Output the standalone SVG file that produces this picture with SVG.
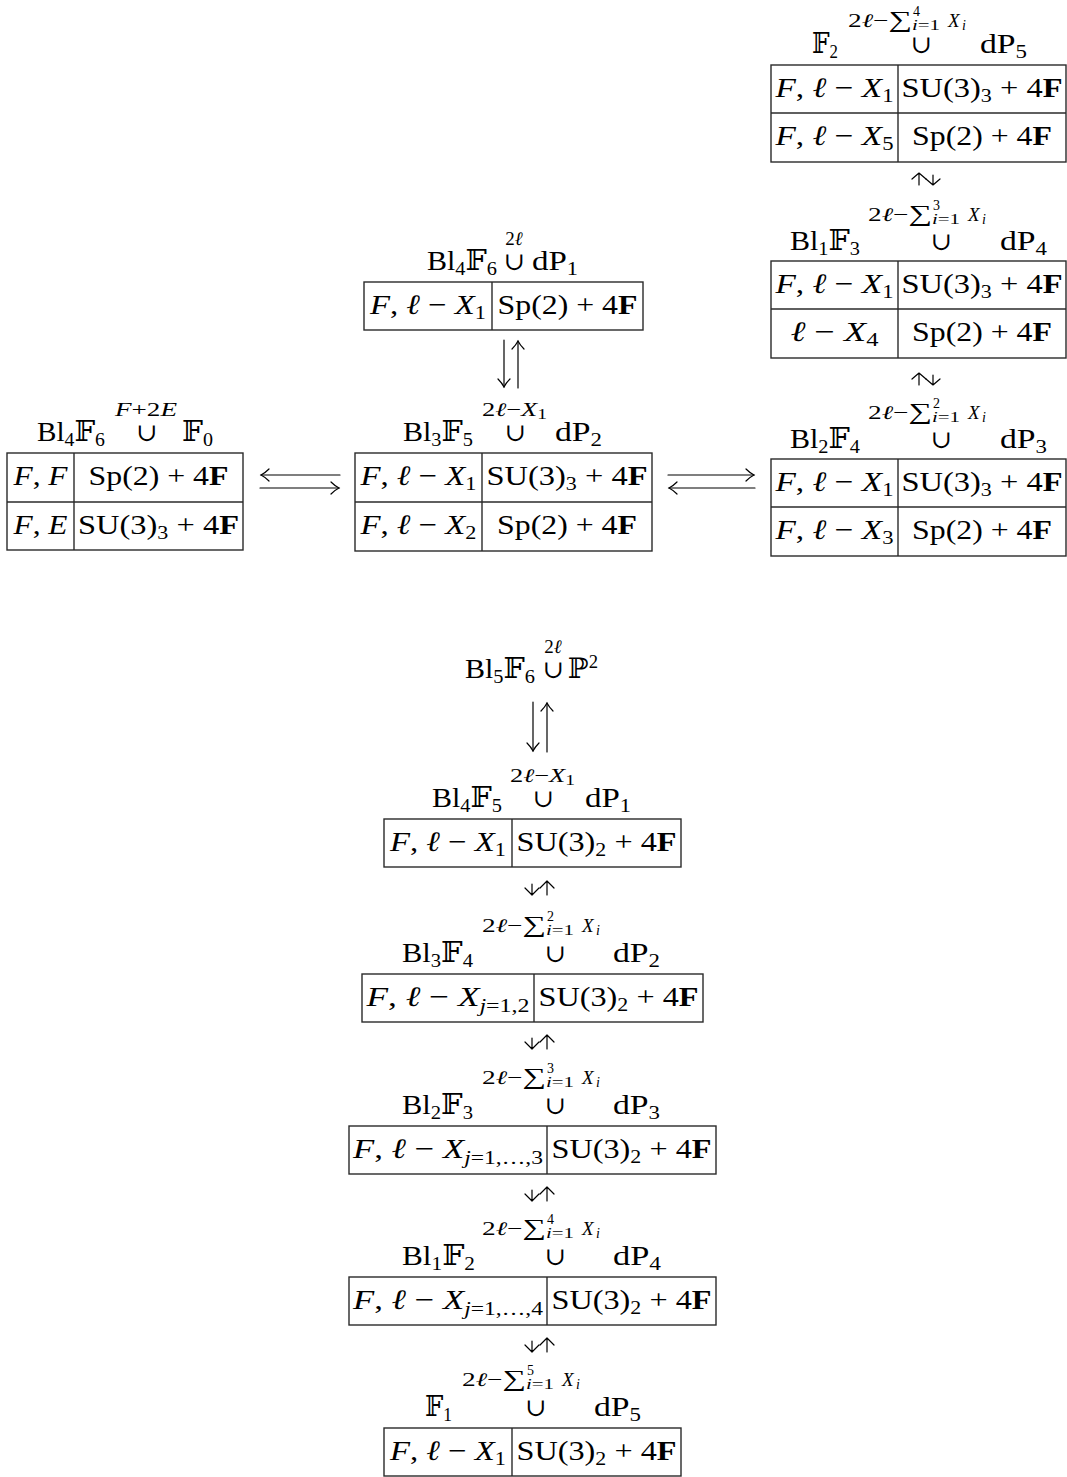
<svg xmlns="http://www.w3.org/2000/svg" width="1067" height="1477" viewBox="0 0 1067 1477">
<style>
.m{font-family:"Liberation Serif","DejaVu Serif",serif;font-size:28px;fill:#000}
.sc{font-size:19px}
.ssc{font-size:14px}
.cup{font-size:25px}
.sg{font-size:23px}
.i{font-style:italic}
.n{font-style:normal}
.b{font-weight:bold}
.tb{fill:none;stroke:#2a2a2a;stroke-width:1.4}
.ar{fill:none;stroke:#000;stroke-width:1.2;stroke-linecap:round;stroke-linejoin:round}
</style>
<defs>
<marker id="ah" markerUnits="userSpaceOnUse" markerWidth="20" markerHeight="20" refX="0" refY="0" viewBox="-10 -10 20 20" orient="auto" overflow="visible">
<path d="M-8,-6 C-5,-3 -2,-1 0,0 C-2,1 -5,3 -8,6" fill="none" stroke="#000" stroke-width="1.2" stroke-linecap="round"/>
</marker>
</defs>
<rect width="1067" height="1477" fill="#fff"/>

<!-- Node A: F2 U dP5 -->
<g id="n-F2-dP5">
<text class="m" x="812" y="53" textLength="26" lengthAdjust="spacingAndGlyphs">&#x1D53D;<tspan class="sc" dy="5">2</tspan></text>
<text class="m sc" x="848" y="27" textLength="64" lengthAdjust="spacingAndGlyphs">2<tspan class="i">&#x2113;</tspan>&#x2212;<tspan class="sg">&#x2211;</tspan></text>
<text class="m ssc" x="913" y="16">4</text>
<text class="m ssc" x="912" y="30" textLength="28" lengthAdjust="spacingAndGlyphs"><tspan class="i">i</tspan>=1</text>
<text class="m sc i" x="948" y="27">X</text>
<text class="m ssc i" x="962" y="30">i</text>
<text class="m cup" x="921" y="53" text-anchor="middle">&#x222A;</text>
<text class="m" x="980" y="53" textLength="47" lengthAdjust="spacingAndGlyphs">dP<tspan class="sc" dy="5">5</tspan></text>
<rect class="tb" x="771" y="65" width="295" height="97"/>
<line class="tb" x1="771" y1="113" x2="1066" y2="113"/>
<line class="tb" x1="898" y1="65" x2="898" y2="162"/>
<text class="m" x="775.5" y="97" textLength="118" lengthAdjust="spacingAndGlyphs"><tspan class="i">F</tspan>, <tspan class="i">&#x2113;</tspan> &#x2212; <tspan class="i">X</tspan><tspan class="sc" dy="5">1</tspan></text>
<text class="m" x="901.5" y="97" textLength="161" lengthAdjust="spacingAndGlyphs">SU(3)<tspan class="sc" dy="5">3</tspan><tspan dy="-5"> + 4</tspan><tspan class="b">F</tspan></text>
<text class="m" x="775.5" y="145" textLength="118" lengthAdjust="spacingAndGlyphs"><tspan class="i">F</tspan>, <tspan class="i">&#x2113;</tspan> &#x2212; <tspan class="i">X</tspan><tspan class="sc" dy="5">5</tspan></text>
<text class="m" x="912" y="145" textLength="140" lengthAdjust="spacingAndGlyphs">Sp(2) + 4<tspan class="b">F</tspan></text>
</g>

<!-- Node B: Bl1F3 U dP4 -->
<g id="n-Bl1F3-dP4">
<text class="m" x="790" y="250" textLength="70" lengthAdjust="spacingAndGlyphs">Bl<tspan class="sc" dy="5">1</tspan><tspan dy="-5">&#x1D53D;</tspan><tspan class="sc" dy="5">3</tspan></text>
<text class="m sc" x="868" y="221" textLength="64" lengthAdjust="spacingAndGlyphs">2<tspan class="i">&#x2113;</tspan>&#x2212;<tspan class="sg">&#x2211;</tspan></text>
<text class="m ssc" x="933" y="210">3</text>
<text class="m ssc" x="932" y="224" textLength="28" lengthAdjust="spacingAndGlyphs"><tspan class="i">i</tspan>=1</text>
<text class="m sc i" x="968" y="221">X</text>
<text class="m ssc i" x="982" y="224">i</text>
<text class="m cup" x="941" y="250" text-anchor="middle">&#x222A;</text>
<text class="m" x="1000" y="250" textLength="47" lengthAdjust="spacingAndGlyphs">dP<tspan class="sc" dy="5">4</tspan></text>
<rect class="tb" x="771" y="261" width="295" height="97"/>
<line class="tb" x1="771" y1="309" x2="1066" y2="309"/>
<line class="tb" x1="898" y1="261" x2="898" y2="358"/>
<text class="m" x="775.5" y="293" textLength="118" lengthAdjust="spacingAndGlyphs"><tspan class="i">F</tspan>, <tspan class="i">&#x2113;</tspan> &#x2212; <tspan class="i">X</tspan><tspan class="sc" dy="5">1</tspan></text>
<text class="m" x="901.5" y="293" textLength="161" lengthAdjust="spacingAndGlyphs">SU(3)<tspan class="sc" dy="5">3</tspan><tspan dy="-5"> + 4</tspan><tspan class="b">F</tspan></text>
<text class="m" x="790.5" y="341" textLength="88" lengthAdjust="spacingAndGlyphs"><tspan class="i">&#x2113;</tspan> &#x2212; <tspan class="i">X</tspan><tspan class="sc" dy="5">4</tspan></text>
<text class="m" x="912" y="341" textLength="140" lengthAdjust="spacingAndGlyphs">Sp(2) + 4<tspan class="b">F</tspan></text>
</g>

<!-- Node C: Bl2F4 U dP3 -->
<g id="n-Bl2F4-dP3">
<text class="m" x="790" y="448" textLength="70" lengthAdjust="spacingAndGlyphs">Bl<tspan class="sc" dy="5">2</tspan><tspan dy="-5">&#x1D53D;</tspan><tspan class="sc" dy="5">4</tspan></text>
<text class="m sc" x="868" y="419" textLength="64" lengthAdjust="spacingAndGlyphs">2<tspan class="i">&#x2113;</tspan>&#x2212;<tspan class="sg">&#x2211;</tspan></text>
<text class="m ssc" x="933" y="408">2</text>
<text class="m ssc" x="932" y="422" textLength="28" lengthAdjust="spacingAndGlyphs"><tspan class="i">i</tspan>=1</text>
<text class="m sc i" x="968" y="419">X</text>
<text class="m ssc i" x="982" y="422">i</text>
<text class="m cup" x="941" y="448" text-anchor="middle">&#x222A;</text>
<text class="m" x="1000" y="448" textLength="47" lengthAdjust="spacingAndGlyphs">dP<tspan class="sc" dy="5">3</tspan></text>
<rect class="tb" x="771" y="459" width="295" height="97"/>
<line class="tb" x1="771" y1="507" x2="1066" y2="507"/>
<line class="tb" x1="898" y1="459" x2="898" y2="556"/>
<text class="m" x="775.5" y="491" textLength="118" lengthAdjust="spacingAndGlyphs"><tspan class="i">F</tspan>, <tspan class="i">&#x2113;</tspan> &#x2212; <tspan class="i">X</tspan><tspan class="sc" dy="5">1</tspan></text>
<text class="m" x="901.5" y="491" textLength="161" lengthAdjust="spacingAndGlyphs">SU(3)<tspan class="sc" dy="5">3</tspan><tspan dy="-5"> + 4</tspan><tspan class="b">F</tspan></text>
<text class="m" x="775.5" y="539" textLength="118" lengthAdjust="spacingAndGlyphs"><tspan class="i">F</tspan>, <tspan class="i">&#x2113;</tspan> &#x2212; <tspan class="i">X</tspan><tspan class="sc" dy="5">3</tspan></text>
<text class="m" x="912" y="539" textLength="140" lengthAdjust="spacingAndGlyphs">Sp(2) + 4<tspan class="b">F</tspan></text>
</g>

<!-- Node L: Bl4F6 U F0 -->
<g id="n-Bl4F6-F0">
<text class="m" x="37" y="441" textLength="68" lengthAdjust="spacingAndGlyphs">Bl<tspan class="sc" dy="5">4</tspan><tspan dy="-5">&#x1D53D;</tspan><tspan class="sc" dy="5">6</tspan></text>
<text class="m sc i" x="115" y="416" textLength="62" lengthAdjust="spacingAndGlyphs">F<tspan class="n">+2</tspan>E</text>
<text class="m cup" x="146.5" y="441" text-anchor="middle">&#x222A;</text>
<text class="m" x="182" y="441" textLength="31" lengthAdjust="spacingAndGlyphs">&#x1D53D;<tspan class="sc" dy="5">0</tspan></text>
<rect class="tb" x="7" y="453" width="236" height="97"/>
<line class="tb" x1="7" y1="502" x2="243" y2="502"/>
<line class="tb" x1="74" y1="453" x2="74" y2="550"/>
<text class="m" x="13.5" y="485" textLength="54" lengthAdjust="spacingAndGlyphs"><tspan class="i">F</tspan>, <tspan class="i">F</tspan></text>
<text class="m" x="88.5" y="485" textLength="140" lengthAdjust="spacingAndGlyphs">Sp(2) + 4<tspan class="b">F</tspan></text>
<text class="m" x="13.5" y="534" textLength="54" lengthAdjust="spacingAndGlyphs"><tspan class="i">F</tspan>, <tspan class="i">E</tspan></text>
<text class="m" x="78" y="534" textLength="161" lengthAdjust="spacingAndGlyphs">SU(3)<tspan class="sc" dy="5">3</tspan><tspan dy="-5"> + 4</tspan><tspan class="b">F</tspan></text>
</g>

<!-- Node M: Bl3F5 U dP2 -->
<g id="n-Bl3F5-dP2">
<text class="m" x="403" y="441" textLength="70" lengthAdjust="spacingAndGlyphs">Bl<tspan class="sc" dy="5">3</tspan><tspan dy="-5">&#x1D53D;</tspan><tspan class="sc" dy="5">5</tspan></text>
<text class="m sc" x="482" y="416" textLength="65" lengthAdjust="spacingAndGlyphs">2<tspan class="i">&#x2113;</tspan>&#x2212;<tspan class="i">X</tspan><tspan class="ssc" dy="3">1</tspan></text>
<text class="m cup" x="515" y="441" text-anchor="middle">&#x222A;</text>
<text class="m" x="555" y="441" textLength="47" lengthAdjust="spacingAndGlyphs">dP<tspan class="sc" dy="5">2</tspan></text>
<rect class="tb" x="355" y="453" width="297" height="98"/>
<line class="tb" x1="355" y1="502" x2="652" y2="502"/>
<line class="tb" x1="482" y1="453" x2="482" y2="551"/>
<text class="m" x="360.5" y="485" textLength="116" lengthAdjust="spacingAndGlyphs"><tspan class="i">F</tspan>, <tspan class="i">&#x2113;</tspan> &#x2212; <tspan class="i">X</tspan><tspan class="sc" dy="5">1</tspan></text>
<text class="m" x="486.5" y="485" textLength="161" lengthAdjust="spacingAndGlyphs">SU(3)<tspan class="sc" dy="5">3</tspan><tspan dy="-5"> + 4</tspan><tspan class="b">F</tspan></text>
<text class="m" x="360.5" y="534" textLength="116" lengthAdjust="spacingAndGlyphs"><tspan class="i">F</tspan>, <tspan class="i">&#x2113;</tspan> &#x2212; <tspan class="i">X</tspan><tspan class="sc" dy="5">2</tspan></text>
<text class="m" x="497" y="534" textLength="140" lengthAdjust="spacingAndGlyphs">Sp(2) + 4<tspan class="b">F</tspan></text>
</g>

<!-- Node T: Bl4F6 U dP1 -->
<g id="n-Bl4F6-dP1">
<text class="m" x="427" y="270" textLength="70" lengthAdjust="spacingAndGlyphs">Bl<tspan class="sc" dy="5">4</tspan><tspan dy="-5">&#x1D53D;</tspan><tspan class="sc" dy="5">6</tspan></text>
<text class="m sc" x="514" y="245" text-anchor="middle">2<tspan class="i">&#x2113;</tspan></text>
<text class="m cup" x="514" y="270" text-anchor="middle">&#x222A;</text>
<text class="m" x="532" y="270" textLength="46" lengthAdjust="spacingAndGlyphs">dP<tspan class="sc" dy="5">1</tspan></text>
<rect class="tb" x="364" y="282" width="279" height="48"/>
<line class="tb" x1="492" y1="282" x2="492" y2="330"/>
<text class="m" x="370" y="314" textLength="116" lengthAdjust="spacingAndGlyphs"><tspan class="i">F</tspan>, <tspan class="i">&#x2113;</tspan> &#x2212; <tspan class="i">X</tspan><tspan class="sc" dy="5">1</tspan></text>
<text class="m" x="497.5" y="314" textLength="140" lengthAdjust="spacingAndGlyphs">Sp(2) + 4<tspan class="b">F</tspan></text>
</g>

<!-- Node P: Bl5F6 U P2 -->
<g id="n-Bl5F6-P2">
<text class="m" x="465" y="678" textLength="70" lengthAdjust="spacingAndGlyphs">Bl<tspan class="sc" dy="5">5</tspan><tspan dy="-5">&#x1D53D;</tspan><tspan class="sc" dy="5">6</tspan></text>
<text class="m sc" x="553" y="653" text-anchor="middle">2<tspan class="i">&#x2113;</tspan></text>
<text class="m cup" x="553" y="678" text-anchor="middle">&#x222A;</text>
<text class="m" x="568" y="678" textLength="30" lengthAdjust="spacingAndGlyphs">&#x2119;<tspan class="sc" dy="-10">2</tspan></text>
</g>

<!-- Node B1: Bl4F5 U dP1 -->
<g id="n-Bl4F5-dP1">
<text class="m" x="432" y="807" textLength="70" lengthAdjust="spacingAndGlyphs">Bl<tspan class="sc" dy="5">4</tspan><tspan dy="-5">&#x1D53D;</tspan><tspan class="sc" dy="5">5</tspan></text>
<text class="m sc" x="510" y="782" textLength="65" lengthAdjust="spacingAndGlyphs">2<tspan class="i">&#x2113;</tspan>&#x2212;<tspan class="i">X</tspan><tspan class="ssc" dy="3">1</tspan></text>
<text class="m cup" x="543" y="807" text-anchor="middle">&#x222A;</text>
<text class="m" x="585" y="807" textLength="46" lengthAdjust="spacingAndGlyphs">dP<tspan class="sc" dy="5">1</tspan></text>
<rect class="tb" x="384" y="819" width="297" height="48"/>
<line class="tb" x1="512" y1="819" x2="512" y2="867"/>
<text class="m" x="390" y="851" textLength="116" lengthAdjust="spacingAndGlyphs"><tspan class="i">F</tspan>, <tspan class="i">&#x2113;</tspan> &#x2212; <tspan class="i">X</tspan><tspan class="sc" dy="5">1</tspan></text>
<text class="m" x="516.5" y="851" textLength="160" lengthAdjust="spacingAndGlyphs">SU(3)<tspan class="sc" dy="5">2</tspan><tspan dy="-5"> + 4</tspan><tspan class="b">F</tspan></text>
</g>

<!-- Node B2: Bl3F4 U dP2 -->
<g id="n-Bl3F4-dP2">
<text class="m" x="402" y="962" textLength="71" lengthAdjust="spacingAndGlyphs">Bl<tspan class="sc" dy="5">3</tspan><tspan dy="-5">&#x1D53D;</tspan><tspan class="sc" dy="5">4</tspan></text>
<text class="m sc" x="482" y="932" textLength="64" lengthAdjust="spacingAndGlyphs">2<tspan class="i">&#x2113;</tspan>&#x2212;<tspan class="sg">&#x2211;</tspan></text>
<text class="m ssc" x="547" y="921">2</text>
<text class="m ssc" x="546" y="935" textLength="28" lengthAdjust="spacingAndGlyphs"><tspan class="i">i</tspan>=1</text>
<text class="m sc i" x="582" y="932">X</text>
<text class="m ssc i" x="596" y="935">i</text>
<text class="m cup" x="555" y="962" text-anchor="middle">&#x222A;</text>
<text class="m" x="613" y="962" textLength="47" lengthAdjust="spacingAndGlyphs">dP<tspan class="sc" dy="5">2</tspan></text>
<rect class="tb" x="362" y="974" width="341" height="48"/>
<line class="tb" x1="534" y1="974" x2="534" y2="1022"/>
<text class="m" x="366.5" y="1006" textLength="163" lengthAdjust="spacingAndGlyphs"><tspan class="i">F</tspan>, <tspan class="i">&#x2113;</tspan> &#x2212; <tspan class="i">X</tspan><tspan class="sc" dy="6"><tspan class="i">j</tspan>=1,2</tspan></text>
<text class="m" x="538.5" y="1006" textLength="160" lengthAdjust="spacingAndGlyphs">SU(3)<tspan class="sc" dy="5">2</tspan><tspan dy="-5"> + 4</tspan><tspan class="b">F</tspan></text>
</g>

<!-- Node B3: Bl2F3 U dP3 -->
<g id="n-Bl2F3-dP3">
<text class="m" x="402" y="1114" textLength="71" lengthAdjust="spacingAndGlyphs">Bl<tspan class="sc" dy="5">2</tspan><tspan dy="-5">&#x1D53D;</tspan><tspan class="sc" dy="5">3</tspan></text>
<text class="m sc" x="482" y="1084" textLength="64" lengthAdjust="spacingAndGlyphs">2<tspan class="i">&#x2113;</tspan>&#x2212;<tspan class="sg">&#x2211;</tspan></text>
<text class="m ssc" x="547" y="1073">3</text>
<text class="m ssc" x="546" y="1087" textLength="28" lengthAdjust="spacingAndGlyphs"><tspan class="i">i</tspan>=1</text>
<text class="m sc i" x="582" y="1084">X</text>
<text class="m ssc i" x="596" y="1087">i</text>
<text class="m cup" x="555" y="1114" text-anchor="middle">&#x222A;</text>
<text class="m" x="613" y="1114" textLength="47" lengthAdjust="spacingAndGlyphs">dP<tspan class="sc" dy="5">3</tspan></text>
<rect class="tb" x="349" y="1126" width="367" height="48"/>
<line class="tb" x1="547" y1="1126" x2="547" y2="1174"/>
<text class="m" x="353" y="1158" textLength="190" lengthAdjust="spacingAndGlyphs"><tspan class="i">F</tspan>, <tspan class="i">&#x2113;</tspan> &#x2212; <tspan class="i">X</tspan><tspan class="sc" dy="6"><tspan class="i">j</tspan>=1,&#x2026;,3</tspan></text>
<text class="m" x="551.5" y="1158" textLength="160" lengthAdjust="spacingAndGlyphs">SU(3)<tspan class="sc" dy="5">2</tspan><tspan dy="-5"> + 4</tspan><tspan class="b">F</tspan></text>
</g>

<!-- Node B4: Bl1F2 U dP4 -->
<g id="n-Bl1F2-dP4">
<text class="m" x="402" y="1265" textLength="73" lengthAdjust="spacingAndGlyphs">Bl<tspan class="sc" dy="5">1</tspan><tspan dy="-5">&#x1D53D;</tspan><tspan class="sc" dy="5">2</tspan></text>
<text class="m sc" x="482" y="1235" textLength="64" lengthAdjust="spacingAndGlyphs">2<tspan class="i">&#x2113;</tspan>&#x2212;<tspan class="sg">&#x2211;</tspan></text>
<text class="m ssc" x="547" y="1224">4</text>
<text class="m ssc" x="546" y="1238" textLength="28" lengthAdjust="spacingAndGlyphs"><tspan class="i">i</tspan>=1</text>
<text class="m sc i" x="582" y="1235">X</text>
<text class="m ssc i" x="596" y="1238">i</text>
<text class="m cup" x="555" y="1265" text-anchor="middle">&#x222A;</text>
<text class="m" x="613" y="1265" textLength="48" lengthAdjust="spacingAndGlyphs">dP<tspan class="sc" dy="5">4</tspan></text>
<rect class="tb" x="349" y="1277" width="367" height="48"/>
<line class="tb" x1="547" y1="1277" x2="547" y2="1325"/>
<text class="m" x="353" y="1309" textLength="190" lengthAdjust="spacingAndGlyphs"><tspan class="i">F</tspan>, <tspan class="i">&#x2113;</tspan> &#x2212; <tspan class="i">X</tspan><tspan class="sc" dy="6"><tspan class="i">j</tspan>=1,&#x2026;,4</tspan></text>
<text class="m" x="551.5" y="1309" textLength="160" lengthAdjust="spacingAndGlyphs">SU(3)<tspan class="sc" dy="5">2</tspan><tspan dy="-5"> + 4</tspan><tspan class="b">F</tspan></text>
</g>

<!-- Node B5: F1 U dP5 -->
<g id="n-F1-dP5">
<text class="m" x="425" y="1416" textLength="27" lengthAdjust="spacingAndGlyphs">&#x1D53D;<tspan class="sc" dy="5">1</tspan></text>
<text class="m sc" x="462" y="1386" textLength="64" lengthAdjust="spacingAndGlyphs">2<tspan class="i">&#x2113;</tspan>&#x2212;<tspan class="sg">&#x2211;</tspan></text>
<text class="m ssc" x="527" y="1375">5</text>
<text class="m ssc" x="526" y="1389" textLength="28" lengthAdjust="spacingAndGlyphs"><tspan class="i">i</tspan>=1</text>
<text class="m sc i" x="562" y="1386">X</text>
<text class="m ssc i" x="576" y="1389">i</text>
<text class="m cup" x="535.5" y="1416" text-anchor="middle">&#x222A;</text>
<text class="m" x="594" y="1416" textLength="47" lengthAdjust="spacingAndGlyphs">dP<tspan class="sc" dy="5">5</tspan></text>
<rect class="tb" x="384" y="1428" width="297" height="48"/>
<line class="tb" x1="512" y1="1428" x2="512" y2="1476"/>
<text class="m" x="390" y="1460" textLength="116" lengthAdjust="spacingAndGlyphs"><tspan class="i">F</tspan>, <tspan class="i">&#x2113;</tspan> &#x2212; <tspan class="i">X</tspan><tspan class="sc" dy="5">1</tspan></text>
<text class="m" x="516.5" y="1460" textLength="160" lengthAdjust="spacingAndGlyphs">SU(3)<tspan class="sc" dy="5">2</tspan><tspan dy="-5"> + 4</tspan><tspan class="b">F</tspan></text>
</g>

<!-- Connectors -->
<g id="connectors">
<path class="ar" d="M340,475 H261" marker-end="url(#ah)"/>
<path class="ar" d="M260,488 H339" marker-end="url(#ah)"/>
<path class="ar" d="M668,475 H754" marker-end="url(#ah)"/>
<path class="ar" d="M755,488 H669" marker-end="url(#ah)"/>
<path class="ar" d="M504,340 V387" marker-end="url(#ah)"/>
<path class="ar" d="M518,388 V341" marker-end="url(#ah)"/>
<path class="ar" d="M533,702 V751" marker-end="url(#ah)"/>
<path class="ar" d="M547,752 V703" marker-end="url(#ah)"/>
<path class="ar" d="M919,185 V173 M912,179 L919,173 L926,179"/>
<path class="ar" d="M933,175 V185 M926,179 L933,185 L940,179"/>
<path class="ar" d="M919,385 V373 M912,379 L919,373 L926,379"/>
<path class="ar" d="M933,375 V385 M926,379 L933,385 L940,379"/>
<path class="ar" d="M532,884 V895 M525,888 L532,895 L539,888"/>
<path class="ar" d="M547,895 V881 M540,888 L547,881 L554,888"/>
<path class="ar" d="M532,1038 V1049 M525,1042 L532,1049 L539,1042"/>
<path class="ar" d="M547,1049 V1035 M540,1042 L547,1035 L554,1042"/>
<path class="ar" d="M532,1190 V1201 M525,1194 L532,1201 L539,1194"/>
<path class="ar" d="M547,1201 V1187 M540,1194 L547,1187 L554,1194"/>
<path class="ar" d="M532,1341 V1352 M525,1345 L532,1352 L539,1345"/>
<path class="ar" d="M547,1352 V1338 M540,1345 L547,1338 L554,1345"/>
</g>
</svg>
